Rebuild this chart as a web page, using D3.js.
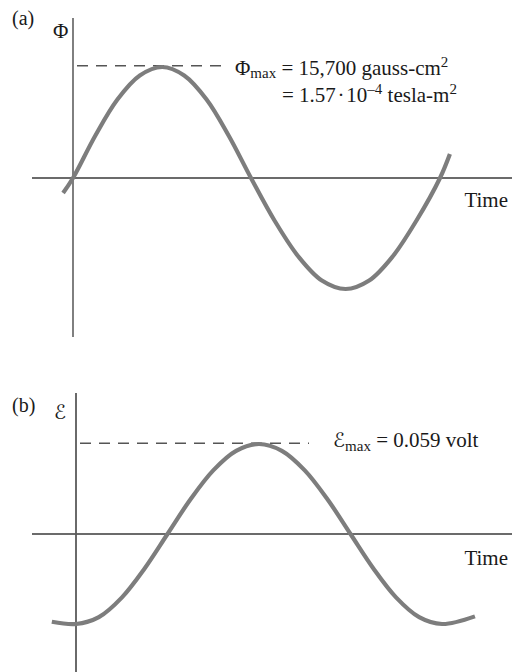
<!DOCTYPE html>
<html>
<head>
<meta charset="utf-8">
<script src="https://cdn.jsdelivr.net/npm/d3@7"></script>
<style>
  html, body { margin: 0; padding: 0; background: #ffffff; }
  svg { display: block; }
  text { font-family: "Liberation Serif", "DejaVu Serif", serif; fill: #1a1a1a; }
  .script { font-family: "DejaVu Serif", "DejaVu Sans", serif; }
</style>
</head>
<body>
<svg id="chart" width="512" height="672"></svg>
<script>
// (a) magnetic flux through the loop, in gauss-cm^2, against time (in turns)
const fluxTime = [-0.027, 0, 0.061, 0.121, 0.182, 0.243, 0.303, 0.364, 0.424, 0.485,
                  0.549, 0.614, 0.678, 0.743, 0.807, 0.871, 0.936, 1.0, 1.027];
const fluxValue = [-2120, 0, 6010, 11100, 14500, 15700, 14500, 11100, 6010, 0,
                   -6010, -11100, -14500, -15700, -14500, -11100, -6010, 0, 3400];
const fluxMax = 15700;

// (b) induced emf, in volts, against the same time units
const emfTime = [-0.066, 0, 0.0625, 0.125, 0.1875, 0.25, 0.3125, 0.375, 0.4375, 0.5,
                 0.5625, 0.625, 0.6875, 0.75, 0.8125, 0.875, 0.9375, 1.0, 1.09];
const emfValue = [-0.0575, -0.059, -0.0545, -0.0417, -0.0226, 0, 0.0226, 0.0417, 0.0545, 0.059,
                  0.0545, 0.0417, 0.0226, 0, -0.0226, -0.0417, -0.0545, -0.059, -0.054];
const emfMax = 0.059;

const panelLabels = ["(a)", "(b)"];
const axisTitles = ["\u03A6", "\u2130"];
const timeLabel = "Time";

const svg = d3.select("#chart");

const curveColor = "#7d7d7d";
const axisColor = "#3a3a3a";

const line = (x, y) => d3.line()
  .x(d => x(d[0]))
  .y(d => y(d[1]))
  .curve(d3.curveCatmullRom.alpha(0.5));

// ---------- panel (a) ----------
const xA = d3.scaleLinear().domain([0, 1]).range([73, 440]);
const yA = d3.scaleLinear().domain([0, fluxMax]).range([178, 67]);
const gA = svg.append("g");

gA.append("line")
  .attr("x1", 32).attr("x2", 512)
  .attr("y1", yA(0)).attr("y2", yA(0))
  .attr("stroke", axisColor).attr("stroke-width", 1.3);
gA.append("line")
  .attr("x1", xA(0)).attr("x2", xA(0))
  .attr("y1", 18).attr("y2", 337)
  .attr("stroke", "#2a2a2a").attr("stroke-width", 1.2);

gA.append("line")
  .attr("x1", xA(0) + 4).attr("x2", 226)
  .attr("y1", yA(fluxMax) - 1.2).attr("y2", yA(fluxMax) - 1.2)
  .attr("stroke", "#555").attr("stroke-width", 1.4)
  .attr("stroke-dasharray", "11,8");

gA.append("path")
  .datum(d3.zip(fluxTime, fluxValue))
  .attr("d", line(xA, yA))
  .attr("fill", "none")
  .attr("stroke", curveColor)
  .attr("stroke-width", 4.2);

gA.append("text").attr("x", 12).attr("y", 25).attr("font-size", 20).text(panelLabels[0]);
gA.append("text").attr("x", 53).attr("y", 38).attr("font-size", 21).text(axisTitles[0]);
gA.append("text").attr("x", 508).attr("y", 207).attr("font-size", 21)
  .attr("text-anchor", "end").text(timeLabel);

const la1 = gA.append("text").attr("x", 235).attr("y", 75).attr("font-size", 21);
la1.append("tspan").text("\u03A6");
la1.append("tspan").attr("font-size", 15).attr("dy", 3).text("max");
la1.append("tspan").attr("dy", -3).text(" = " + d3.format(",")(fluxMax) + " gauss-cm");
la1.append("tspan").attr("font-size", 15).attr("dy", -8).text("2");

const la2 = gA.append("text").attr("x", 282).attr("y", 102).attr("font-size", 21);
la2.append("tspan").text("= 1.57\u200A\u00B7\u200A10");
la2.append("tspan").attr("font-size", 15).attr("dy", -8).text("\u20134");
la2.append("tspan").attr("dy", 8).text(" tesla-m");
la2.append("tspan").attr("font-size", 15).attr("dy", -8).text("2");

// ---------- panel (b) ----------
const xB = d3.scaleLinear().domain([0, 1]).range([76, 442]);
const yB = d3.scaleLinear().domain([0, emfMax]).range([534, 444]);
const gB = svg.append("g");

gB.append("line")
  .attr("x1", 32).attr("x2", 512)
  .attr("y1", yB(0)).attr("y2", yB(0))
  .attr("stroke", axisColor).attr("stroke-width", 1.3);
gB.append("line")
  .attr("x1", xB(0)).attr("x2", xB(0))
  .attr("y1", 393).attr("y2", 672)
  .attr("stroke", "#5a5a5a").attr("stroke-width", 1.8);

gB.append("line")
  .attr("x1", xB(0) + 4).attr("x2", 309)
  .attr("y1", yB(emfMax) - 0.8).attr("y2", yB(emfMax) - 0.8)
  .attr("stroke", "#555").attr("stroke-width", 1.4)
  .attr("stroke-dasharray", "11,8");

gB.append("path")
  .datum(d3.zip(emfTime, emfValue))
  .attr("d", line(xB, yB))
  .attr("fill", "none")
  .attr("stroke", curveColor)
  .attr("stroke-width", 4.2);

gB.append("text").attr("x", 12).attr("y", 412).attr("font-size", 20).text(panelLabels[1]);
gB.append("text").attr("class", "script").attr("x", 54).attr("y", 419).attr("font-size", 20)
  .text(axisTitles[1]);
gB.append("text").attr("x", 508).attr("y", 565).attr("font-size", 21)
  .attr("text-anchor", "end").text(timeLabel);

const lb = gB.append("text").attr("x", 333).attr("y", 447).attr("font-size", 21);
lb.append("tspan").attr("class", "script").attr("font-size", 20).text("\u2130");
lb.append("tspan").attr("font-size", 15).attr("dy", 4).text("max");
lb.append("tspan").attr("dy", -4).text(" = " + emfMax + " volt");
</script>
</body>
</html>
